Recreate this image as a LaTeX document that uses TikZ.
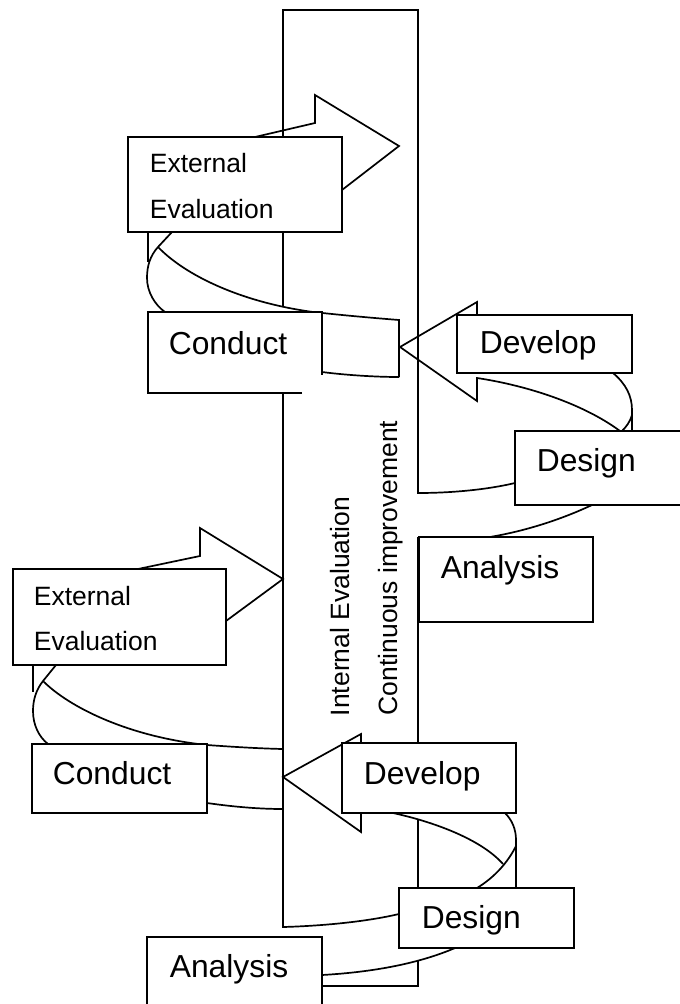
\documentclass[tikz,border=0pt]{standalone}
\usepackage{fontspec}
\setmainfont{Liberation Sans}
\begin{document}
\begin{tikzpicture}[x=1pt, y=-1pt, line width=1.7pt, line join=miter,
  box/.style={draw, fill=white},
  lbl/.style={anchor=base west, inner sep=0pt, font=\fontsize{31.8}{38}\selectfont},
  sml/.style={anchor=base west, inner sep=0pt, font=\fontsize{26.5}{32}\selectfont}]
\useasboundingbox (0,0) rectangle (680,1004);
\clip (0,0) rectangle (680,1004);

% ---------- central column ----------
\draw (283,306) -- (283,10) -- (418,10) -- (418,493)
      .. controls (455,493) and (490,489) .. (515,483);
\draw (283,393) -- (283,927) .. controls (320,926) and (365,922) .. (399,914);
\draw (418,537) -- (418,742);
\draw (418,819) -- (418,888);
\draw (418,960) -- (418,986) -- (322,986);

% ---------- upper turn ----------
% block arrow behind the external evaluation box
\draw (255,137) -- (315,123) -- (315,95) -- (399,146) -- (342,190);
% ribbon from external evaluation down to conduct
\draw (148,232) -- (148,262);
\draw (172,232) -- (158,247) .. controls (150,256) and (147,266) .. (147,278)
      .. controls (147,292) and (155,305) .. (165,312);
\draw (158,247) .. controls (185,275) and (240,302) .. (313,312)
      .. controls (350,316) and (380,318.5) .. (399,320) -- (399,377);
\draw (322,372) .. controls (345,375) and (375,377) .. (399,377);
% arrow from develop pointing left
\draw (477,315) -- (477,302) -- (400,347) -- (477,401) -- (477,378)
      .. controls (530,386) and (585,405) .. (620,431);
% ribbon from develop down to design
\draw (613,373) .. controls (626,384) and (632,396) .. (632,410) -- (632,431);
\draw (632,415) .. controls (630,422) and (626,427) .. (622,431);
% ribbon from design down to analysis
\draw (592,505) .. controls (560,520) and (525,531) .. (490,537);

% ---------- lower turn ----------
\draw (138,569) -- (200,556) -- (200,528) -- (283,579) -- (226,621);
\draw (33,665) -- (33,692);
\draw (56,665) -- (43,681) .. controls (36,690) and (33,700) .. (33,711)
      .. controls (33,725) and (39,737) .. (48,744);
\draw (43,681) .. controls (70,708) and (130,737) .. (207,745)
      .. controls (235,747) and (260,748.5) .. (283,749);
\draw (207,803) .. controls (235,807) and (260,809) .. (283,809);
\draw (361,743) -- (361,734) -- (283,777) -- (361,832) -- (361,813);
\draw (393,813) .. controls (430,821) and (480,838) .. (503,864);
\draw (505,813) .. controls (512,820) and (516,829) .. (516,840) -- (516,888);
\draw (516,846) .. controls (508,862) and (495,877) .. (477,888);
\draw (455,948) .. controls (420,963) and (375,972) .. (322,975);

% ---------- boxes ----------
\draw[box] (128,137) rectangle (342,232);
\fill[white] (148,312) rectangle (322,393);
\draw (302,393) -- (148,393) -- (148,312) -- (322,312) -- (322,375);
\draw[box] (457,315) rectangle (632,373);
\draw[box] (515,431) rectangle (690,505);
\draw[box] (419,537) rectangle (593,622);

\draw[box] (13,569) rectangle (226,665);
\draw[box] (32,744) rectangle (207,813);
\draw[box] (342,743) rectangle (516,813);
\draw[box] (399,888) rectangle (574,948);
\fill[white] (147,937) rectangle (322,1010);
\draw (147,1010) -- (147,937) -- (322,937) -- (322,1010);

% ---------- labels ----------
\node[sml] (extA1) at (149,172) {External};
\node[sml] (extA2) at (149,218) {Evaluation};
\node[lbl] (conA) at (168,354) {Conduct};
\node[lbl] (devA) at (479,353) {Develop};
\node[lbl] (desA) at (536,471) {Design};
\node[lbl] (anaA) at (440,578) {Analysis};

\node[sml] (extB1) at (33,605) {External};
\node[sml] (extB2) at (33,650) {Evaluation};
\node[lbl] (conB) at (52,784) {Conduct};
\node[lbl] (devB) at (363,784) {Develop};
\node[lbl] (desB) at (421,928) {Design};
\node[lbl] (anaB) at (169,977) {Analysis};

\node[sml, rotate=90] (intev) at (349,717) {Internal Evaluation};
\node[sml, rotate=90] (cont) at (397,716) {Continuous improvement};
\end{tikzpicture}
\end{document}
